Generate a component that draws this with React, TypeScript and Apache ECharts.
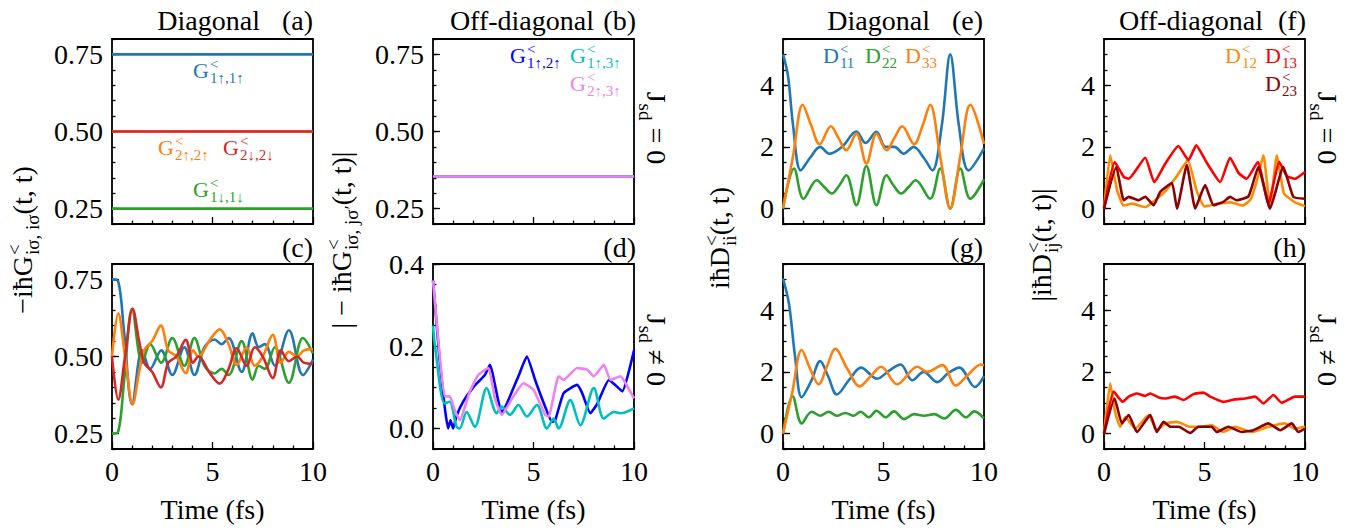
import React, { useEffect, useRef } from 'react';
import * as echarts from 'echarts';

const FONT = "'Liberation Serif', 'Times New Roman', serif";

// ---------- tick labels / axis data ----------
const X_MAJOR = [0, 5, 10];
const Y_G_MAJOR = [0.25, 0.5, 0.75];
const Y_OFF_MAJOR = [0, 0.2, 0.4];
const Y_D_MAJOR = [0, 2, 4];
const X_NAME = 'Time (fs)';

// ---------- panel (a): J_sd = 0, diagonal G ----------
const tFlat = [0, 10];
const a_G1up = [0.75, 0.75];
const a_G2up = [0.5, 0.5];
const a_G2dn = [0.5, 0.5];
const a_G1dn = [0.25, 0.25];

// ---------- panel (b): J_sd = 0, off-diagonal G ----------
const b_G12 = [0.354, 0.354];
const b_G13 = [0.354, 0.354];
const b_G23 = [0.354, 0.354];

// ---------- panel (c): J_sd != 0, diagonal G ----------
const c_tA = [0, 0.3, 0.6, 1.0, 1.5, 1.9, 2.45, 3.0, 3.6, 4.1, 4.6, 5.1, 5.45, 5.8, 6.45, 7.0, 7.3, 7.6, 8.1, 8.8, 9.5, 10];
const c_G1up = [0.75, 0.745, 0.58, 0.345, 0.52, 0.46, 0.52, 0.44, 0.53, 0.44, 0.53, 0.555, 0.54, 0.56, 0.45, 0.575, 0.53, 0.54, 0.47, 0.585, 0.44, 0.49];
const c_G1dn = [0.25, 0.255, 0.42, 0.655, 0.48, 0.54, 0.48, 0.56, 0.47, 0.56, 0.47, 0.445, 0.46, 0.44, 0.55, 0.425, 0.47, 0.46, 0.53, 0.415, 0.56, 0.51];
const c_tB = [0, 0.31, 0.65, 1.03, 1.35, 1.6, 2.0, 2.43, 2.8, 3.2, 3.67, 4.03, 4.3, 4.87, 5.36, 5.8, 6.2, 6.7, 7.1, 7.5, 8.0, 8.4, 8.8, 9.2, 9.55, 10];
const c_G2up = [0.5, 0.64, 0.5, 0.345, 0.45, 0.52, 0.55, 0.6, 0.52, 0.5, 0.446, 0.52, 0.5, 0.554, 0.588, 0.54, 0.473, 0.53, 0.47, 0.5, 0.57, 0.48, 0.515, 0.5, 0.52, 0.524];
const c_G2dn = [0.5, 0.36, 0.5, 0.655, 0.55, 0.48, 0.45, 0.4, 0.48, 0.5, 0.554, 0.48, 0.5, 0.446, 0.412, 0.46, 0.527, 0.47, 0.53, 0.5, 0.43, 0.52, 0.485, 0.5, 0.48, 0.476];

// ---------- panel (d): J_sd != 0, off-diagonal G ----------
const d_t12 = [0, 0.33, 0.58, 0.75, 0.87, 1.0, 1.17, 1.5, 2.0, 2.58, 2.83, 3.42, 3.67, 4.25, 4.67, 5.08, 5.58, 5.92, 6.08, 6.5, 7.17, 7.42, 7.83, 8.17, 8.75, 9.08, 9.42, 10];
const d_G12 = [0.36, 0.167, 0.053, 0.0, 0.02, 0.0, 0.03, 0.065, 0.1, 0.13, 0.155, 0.037, 0.06, 0.127, 0.175, 0.118, 0.053, 0.016, 0.02, 0.086, 0.106, 0.086, 0.037, 0.06, 0.118, 0.105, 0.09, 0.19];
const d_t13 = [0, 0.1, 0.58, 0.83, 1.17, 1.33, 1.67, 2.08, 2.67, 3.17, 3.42, 3.83, 4.25, 4.67, 5.17, 5.67, 6.0, 6.25, 6.83, 7.33, 8.0, 8.5, 9.0, 9.33, 10];
const d_G13 = [0.25, 0.2, 0.061, 0.065, 0.004, 0.0, 0.04, 0.004, 0.098, 0.037, 0.053, 0.033, 0.057, 0.029, 0.057, 0.0, 0.024, 0.0, 0.069, 0.008, 0.098, 0.024, 0.04, 0.037, 0.049];
const d_t23 = [0, 0.33, 0.58, 0.83, 1.08, 1.33, 1.83, 2.25, 2.75, 3.08, 3.42, 4.0, 4.5, 5.0, 5.58, 5.75, 6.25, 6.5, 7.17, 7.67, 8.0, 8.5, 8.83, 9.33, 9.58, 10];
const d_G23 = [0.36, 0.18, 0.078, 0.078, 0.045, 0.02, 0.09, 0.13, 0.147, 0.073, 0.033, 0.078, 0.11, 0.094, 0.033, 0.029, 0.127, 0.118, 0.147, 0.143, 0.127, 0.155, 0.118, 0.127, 0.11, 0.073];

// ---------- panel (e): J_sd = 0, diagonal D ----------
const e_t11 = [0, 0.25, 0.5, 0.88, 1.35, 1.85, 2.3, 2.93, 3.65, 4.1, 4.65, 5.1, 5.55, 6.0, 6.5, 7.0, 7.43, 7.9, 8.32, 8.75, 9.23, 10];
const e_D11 = [5.0, 4.3, 2.7, 1.24, 1.65, 2.0, 1.78, 2.0, 2.5, 2.13, 2.49, 2.0, 2.0, 1.78, 2.0, 1.65, 1.24, 2.7, 5.0, 2.7, 1.24, 1.95];
const e_t22 = [0, 0.55, 1.02, 1.68, 2.05, 2.43, 2.8, 3.15, 3.65, 4.15, 4.65, 5.15, 5.5, 5.88, 6.25, 6.6, 7.32, 7.82, 8.32, 8.82, 9.32, 10];
const e_D22 = [0, 1.3, 0.32, 0.92, 0.7, 0.49, 0.75, 1.08, 0.11, 1.38, 0.11, 1.08, 0.75, 0.49, 0.7, 0.92, 0.32, 1.3, 0, 1.3, 0.32, 0.95];
const e_t33 = [0, 0.5, 0.98, 1.4, 1.82, 2.38, 2.75, 3.15, 3.65, 4.15, 4.65, 5.15, 5.55, 5.93, 6.52, 6.95, 7.32, 7.82, 8.32, 8.82, 9.32, 10];
const e_D33 = [0, 1.7, 3.37, 2.7, 2.09, 2.67, 2.3, 1.89, 2.43, 1.46, 2.43, 1.89, 2.3, 2.67, 2.09, 2.7, 3.37, 1.7, 0, 1.7, 3.37, 2.1];

// ---------- panel (f): J_sd = 0, off-diagonal D ----------
const f_t12 = [0, 0.31, 0.65, 0.98, 1.4, 2.05, 2.6, 3.1, 3.6, 4.17, 4.6, 5.0, 5.6, 6.3, 6.9, 7.3, 7.6, 7.93, 8.26, 8.6, 8.95, 9.5, 10];
const f_D12 = [0, 1.73, 0.6, 0.1, 0.16, 0.05, 0.3, 0.6, 1.03, 1.57, 0.6, 0.07, 0.15, 0.2, 0.1, 0.3, 0.9, 1.73, 0.05, 1.73, 0.5, 0.2, 0.08];
const f_t13 = [0, 0.53, 0.98, 1.23, 2.05, 2.5, 3.05, 3.7, 4.2, 4.59, 5.1, 5.78, 6.27, 6.7, 7.1, 7.65, 8.18, 8.72, 9.1, 9.5, 10];
const f_D13 = [0, 1.51, 1.03, 0.97, 1.65, 0.86, 1.46, 2.03, 1.57, 2.05, 1.5, 0.86, 1.65, 1.15, 0.97, 1.51, 0.16, 1.51, 1.05, 0.97, 1.19];
const f_t23 = [0, 0.61, 0.98, 1.23, 1.72, 2.05, 2.47, 2.8, 3.38, 3.63, 4.12, 4.54, 5.03, 5.45, 5.94, 6.27, 6.6, 7.19, 7.68, 8.26, 8.92, 9.42, 10];
const f_D23 = [0, 1.35, 0.27, 0.38, 0.27, 0.38, 0.11, 0.54, 0.83, 0.0, 1.41, 0.0, 0.76, 0.11, 0.22, 0.38, 0.27, 0.4, 1.35, 0.0, 1.35, 0.38, 0.32];

// ---------- panel (g): J_sd != 0, diagonal D ----------
const g_t11 = [0, 0.3, 0.6, 0.93, 1.4, 1.85, 2.25, 2.68, 3.3, 3.88, 4.68, 5.3, 5.85, 6.43, 7.0, 7.68, 8.2, 8.77, 9.55, 10];
const g_D11 = [5.03, 4.2, 2.5, 1.18, 1.7, 2.35, 1.85, 1.27, 1.75, 2.14, 1.78, 2.05, 2.24, 1.73, 2.0, 1.67, 1.95, 2.14, 1.51, 1.86];
const g_t22 = [0, 0.48, 0.93, 1.43, 1.85, 2.27, 2.68, 3.1, 3.52, 3.85, 4.27, 4.65, 5.1, 5.52, 6.02, 6.52, 7.02, 7.52, 8.02, 8.6, 9.1, 9.52, 10];
const g_D22 = [0, 1.21, 0.33, 0.71, 0.58, 0.71, 0.58, 0.67, 0.58, 0.71, 0.53, 0.74, 0.53, 0.72, 0.47, 0.63, 0.58, 0.63, 0.49, 0.77, 0.53, 0.72, 0.49];
const g_t33 = [0, 0.45, 0.93, 1.35, 1.77, 2.2, 2.6, 3.2, 3.82, 4.35, 4.88, 5.68, 6.68, 7.18, 7.93, 8.6, 9.2, 9.85, 10];
const g_D33 = [0, 1.3, 2.71, 2.1, 1.6, 2.2, 2.75, 2.1, 1.53, 1.85, 2.17, 1.6, 2.17, 2.0, 2.22, 1.56, 1.9, 2.24, 2.22];

// ---------- panel (h): J_sd != 0, off-diagonal D ----------
const h_t12 = [0, 0.31, 0.55, 0.81, 1.06, 1.56, 2.22, 2.63, 3.05, 3.63, 4.29, 4.78, 5.36, 5.94, 6.52, 7.35, 8.18, 9.0, 9.5, 10];
const h_D12 = [0, 1.63, 0.7, 0.22, 0.54, 0.16, 0.6, 0.11, 0.33, 0.38, 0.22, 0.22, 0.27, 0.05, 0.22, 0.05, 0.22, 0.33, 0.16, 0.22];
const h_t13 = [0, 0.48, 0.93, 1.23, 1.64, 2.05, 2.3, 2.72, 3.05, 3.54, 3.96, 4.45, 4.95, 5.28, 5.94, 6.52, 7.02, 7.52, 7.93, 8.43, 8.84, 9.5, 10];
const h_D13 = [0, 1.36, 1.03, 1.2, 1.3, 1.22, 1.3, 1.17, 1.14, 1.2, 1.09, 1.28, 1.33, 1.2, 1.03, 1.11, 1.14, 1.2, 0.98, 1.25, 1.0, 1.2, 1.2];
const h_t23 = [0, 0.53, 0.89, 1.23, 1.64, 2.3, 2.63, 2.96, 3.3, 3.72, 4.29, 4.7, 5.36, 5.61, 6.19, 6.85, 7.43, 8.18, 8.77, 9.34, 9.67, 10];
const h_D23 = [0, 1.14, 0.33, 0.6, 0.05, 0.6, 0.05, 0.38, 0.22, 0.22, 0.02, 0.22, 0.22, 0.05, 0.22, 0.05, 0.11, 0.33, 0.11, 0.33, 0.05, 0.16];

// ---------- colours ----------
const C_BLUE = '#1f77b4';
const C_ORANGE = '#ff7f0e';
const C_GREEN = '#2ca02c';
const C_RED = '#d62728';
const C_PBLUE = '#0000ff';
const C_CYAN = '#00bfbf';
const C_VIOLET = '#ee82ee';
const C_DORANGE = '#ff8c00';
const C_PRED = '#ff0000';
const C_DRED = '#8b0000';

// ---------- layout ----------
const GRID_LEFT = [112, 433, 783, 1104];
const GRID_TOP = [39, 264];
const GW = 201;
const GH = 185;

type YSpec = { min: number; max: number; major: number[]; minor: number; dec: number };
const YG: YSpec = { min: 0.2, max: 0.8, major: Y_G_MAJOR, minor: 0.05, dec: 2 };
const YOFF: YSpec = { min: -0.05, max: 0.4, major: Y_OFF_MAJOR, minor: 0.05, dec: 1 };
const YD: YSpec = { min: -0.5, max: 5.5, major: Y_D_MAJOR, minor: 0.5, dec: 0 };
// grid order: a, b, e, f, c, d, g, h
const Y_SPECS: YSpec[] = [YG, YG, YD, YD, YG, YOFF, YD, YD];

let measureCtx: CanvasRenderingContext2D | null = null;
function textWidth(s: string, size: number): number {
  if (!measureCtx) measureCtx = document.createElement('canvas').getContext('2d');
  measureCtx!.font = `${size}px ${FONT}`;
  return measureCtx!.measureText(s).width;
}

type Seg = { t?: string; sup?: string; sub?: string };
function mathText(
  segs: Seg[], x: number, y: number, size: number, color: string,
  align: 'left' | 'center' | 'right' = 'left', rotation = 0
) {
  const ss = Math.round(size * 0.68);
  const kids: any[] = [];
  let cx = 0;
  const mk = (text: string, px: number, py: number, fs: number) => ({
    type: 'text', x: px, y: py,
    style: { text, fontSize: fs, fontFamily: FONT, fill: color, align: 'left', verticalAlign: 'middle' },
  });
  for (const s of segs) {
    if (s.t) { kids.push(mk(s.t, cx, 0, size)); cx += textWidth(s.t, size); }
    let w = 0;
    if (s.sup) { kids.push(mk(s.sup, cx + 1, -size * 0.27, ss)); w = Math.max(w, textWidth(s.sup, ss) + 1); }
    if (s.sub) { kids.push(mk(s.sub, cx + 1, size * 0.36, ss)); w = Math.max(w, textWidth(s.sub, ss) + 1); }
    cx += w;
  }
  const off = align === 'center' ? -cx / 2 : align === 'right' ? -cx : 0;
  kids.forEach((k) => { k.x += off; });
  return { type: 'group', x, y, rotation, silent: true, children: kids };
}

function plainText(text: string, x: number, y: number, size: number, align: string) {
  return {
    type: 'text', x, y, silent: true,
    style: { text, fontSize: size, fontFamily: FONT, fill: '#000', align, verticalAlign: 'middle' },
  };
}

function line(gi: number, t: number[], v: number[], color: string, smooth: number | boolean = false) {
  return {
    type: 'line', xAxisIndex: gi, yAxisIndex: gi * 2,
    data: t.map((x, i) => [x, v[i]]),
    showSymbol: false, symbol: 'none', smooth,
    lineStyle: { color, width: 2.6 }, itemStyle: { color },
    clip: true, animation: false,
  };
}

function buildOption() {
  const grid: any[] = [];
  const xAxis: any[] = [];
  const yAxis: any[] = [];
  const tickStyle = { color: '#000', width: 1.3 };
  const lab = { fontSize: 28, fontFamily: FONT, color: '#000' };
  for (let i = 0; i < 8; i++) {
    const col = i % 4;
    const row = Math.floor(i / 4);
    grid.push({
      left: GRID_LEFT[col], top: GRID_TOP[row], width: GW, height: GH,
      show: true, borderColor: '#000', borderWidth: 1.8, backgroundColor: 'transparent',
    });
    xAxis.push({
      type: 'value', gridIndex: i, min: X_MAJOR[0], max: X_MAJOR[2], interval: 5, position: 'bottom',
      axisLine: { show: false, onZero: false },
      splitLine: { show: false },
      axisTick: { show: true, inside: true, length: 7, lineStyle: tickStyle },
      minorTick: { show: true, splitNumber: 5, length: 3.5, lineStyle: tickStyle },
      minorSplitLine: { show: false },
      axisLabel: {
        show: row === 1, ...lab, margin: 8,
        showMinLabel: true, showMaxLabel: true, formatter: (v: number) => String(v),
      },
      name: row === 1 ? X_NAME : '',
      nameLocation: 'middle', nameGap: 46,
      nameTextStyle: lab,
    });
    const s = Y_SPECS[i];
    yAxis.push({
      type: 'value', gridIndex: i, position: 'left', min: s.min, max: s.max,
      axisLine: { show: false, onZero: false },
      splitLine: { show: false },
      axisTick: { show: true, inside: true, length: 7, customValues: s.major, lineStyle: tickStyle },
      axisLabel: {
        show: true, customValues: s.major, ...lab, margin: 9,
        formatter: (v: number) => v.toFixed(s.dec),
      },
    });
    yAxis.push({
      type: 'value', gridIndex: i, position: 'left', min: s.min, max: s.max, interval: s.minor,
      axisLine: { show: false, onZero: false },
      splitLine: { show: false },
      axisLabel: { show: false },
      axisTick: { show: true, inside: true, length: 3.5, lineStyle: tickStyle },
    });
  }

  const sm = 0.35;
  const sj = 0.15;
  const series = [
    // (a)
    line(0, tFlat, a_G2up, C_ORANGE), line(0, tFlat, a_G2dn, C_RED),
    line(0, tFlat, a_G1up, C_BLUE), line(0, tFlat, a_G1dn, C_GREEN),
    // (b)
    line(1, tFlat, b_G12, C_PBLUE), line(1, tFlat, b_G13, C_CYAN), line(1, tFlat, b_G23, C_VIOLET),
    // (e)
    line(2, e_t11, e_D11, C_BLUE, sm), line(2, e_t22, e_D22, C_GREEN, sm), line(2, e_t33, e_D33, C_ORANGE, sm),
    // (f)
    line(3, f_t12, f_D12, C_DORANGE, sj), line(3, f_t13, f_D13, C_PRED, sj), line(3, f_t23, f_D23, C_DRED, sj),
    // (c)
    line(4, c_tA, c_G1up, C_BLUE, sm), line(4, c_tA, c_G1dn, C_GREEN, sm),
    line(4, c_tB, c_G2up, C_ORANGE, sm), line(4, c_tB, c_G2dn, C_RED, sm),
    // (d)
    line(5, d_t12, d_G12, C_PBLUE, sj), line(5, d_t13, d_G13, C_CYAN, 0.3), line(5, d_t23, d_G23, C_VIOLET, sj),
    // (g)
    line(6, g_t11, g_D11, C_BLUE, sm), line(6, g_t22, g_D22, C_GREEN, sm), line(6, g_t33, g_D33, C_ORANGE, sm),
    // (h)
    line(7, h_t12, h_D12, C_DORANGE, sj), line(7, h_t13, h_D13, C_PRED, sj), line(7, h_t23, h_D23, C_DRED, sj),
  ];

  const L = 22; // legend font size
  const graphic: any[] = [
    // titles
    plainText('Diagonal', 260, 20, 28, 'right'), plainText('(a)', 313, 20, 28, 'right'),
    plainText('Off-diagonal', 594, 20, 28, 'right'), plainText('(b)', 636, 20, 28, 'right'),
    plainText('Diagonal', 930, 20, 28, 'right'), plainText('(e)', 983, 20, 28, 'right'),
    plainText('Off-diagonal', 1263, 20, 28, 'right'), plainText('(f)', 1306, 20, 28, 'right'),
    plainText('(c)', 313, 247, 28, 'right'), plainText('(d)', 636, 247, 28, 'right'),
    plainText('(g)', 983, 247, 28, 'right'), plainText('(h)', 1306, 247, 28, 'right'),
    // in-panel labels (a)
    mathText([{ t: 'G', sup: '<', sub: '1↑,1↑' }], 193, 70, L, C_BLUE),
    mathText([{ t: 'G', sup: '<', sub: '2↑,2↑' }], 158, 147, L, C_ORANGE),
    mathText([{ t: 'G', sup: '<', sub: '2↓,2↓' }], 223, 147, L, C_RED),
    mathText([{ t: 'G', sup: '<', sub: '1↓,1↓' }], 193, 189, L, C_GREEN),
    // (b)
    mathText([{ t: 'G', sup: '<', sub: '1↑,2↑' }], 510, 55, L, C_PBLUE),
    mathText([{ t: 'G', sup: '<', sub: '1↑,3↑' }], 570, 55, L, C_CYAN),
    mathText([{ t: 'G', sup: '<', sub: '2↑,3↑' }], 570, 83, L, C_VIOLET),
    // (e)
    mathText([{ t: 'D', sup: '<', sub: '11' }], 823, 55, L, C_BLUE),
    mathText([{ t: 'D', sup: '<', sub: '22' }], 865, 55, L, C_GREEN),
    mathText([{ t: 'D', sup: '<', sub: '33' }], 905, 55, L, C_ORANGE),
    // (f)
    mathText([{ t: 'D', sup: '<', sub: '12' }], 1225, 55, L, C_DORANGE),
    mathText([{ t: 'D', sup: '<', sub: '13' }], 1265, 55, L, C_PRED),
    mathText([{ t: 'D', sup: '<', sub: '23' }], 1265, 83, L, C_DRED),
    // y-axis titles
    mathText([{ t: '−iħG', sup: '<', sub: 'iσ, iσ' }, { t: '(t, t)' }], 22, 240, 28, '#000', 'center', Math.PI / 2),
    mathText([{ t: '| − iħG', sup: '<', sub: 'iσ, jσ′' }, { t: '(t, t)|' }], 341, 240, 28, '#000', 'center', Math.PI / 2),
    mathText([{ t: 'iħD', sup: '<', sub: 'ii' }, { t: '(t, t)' }], 719, 238, 28, '#000', 'center', Math.PI / 2),
    mathText([{ t: '|iħD', sup: '<', sub: 'ij' }, { t: '(t, t)|' }], 1041, 245, 28, '#000', 'center', Math.PI / 2),
    // J_sd labels
    mathText([{ t: 'J', sub: 'sd' }, { t: ' = 0' }], 656, 128, 28, '#000', 'center', -Math.PI / 2),
    mathText([{ t: 'J', sub: 'sd' }, { t: ' ≠ 0' }], 656, 350, 28, '#000', 'center', -Math.PI / 2),
    mathText([{ t: 'J', sub: 'sd' }, { t: ' = 0' }], 1327, 128, 28, '#000', 'center', -Math.PI / 2),
    mathText([{ t: 'J', sub: 'sd' }, { t: ' ≠ 0' }], 1327, 350, 28, '#000', 'center', -Math.PI / 2),
  ];

  return {
    animation: false,
    backgroundColor: '#ffffff',
    textStyle: { fontFamily: FONT },
    grid, xAxis, yAxis, series, graphic,
  };
}

export default function App() {
  const ref = useRef<HTMLDivElement>(null);
  useEffect(() => {
    const chart = echarts.init(ref.current!, undefined, { renderer: 'svg' });
    chart.setOption(buildOption() as any);
    return () => chart.dispose();
  }, []);
  return (
    <div
      ref={ref}
      style={{ position: 'fixed', left: 0, top: 0, width: 1361, height: 529, background: '#fff' }}
    />
  );
}
